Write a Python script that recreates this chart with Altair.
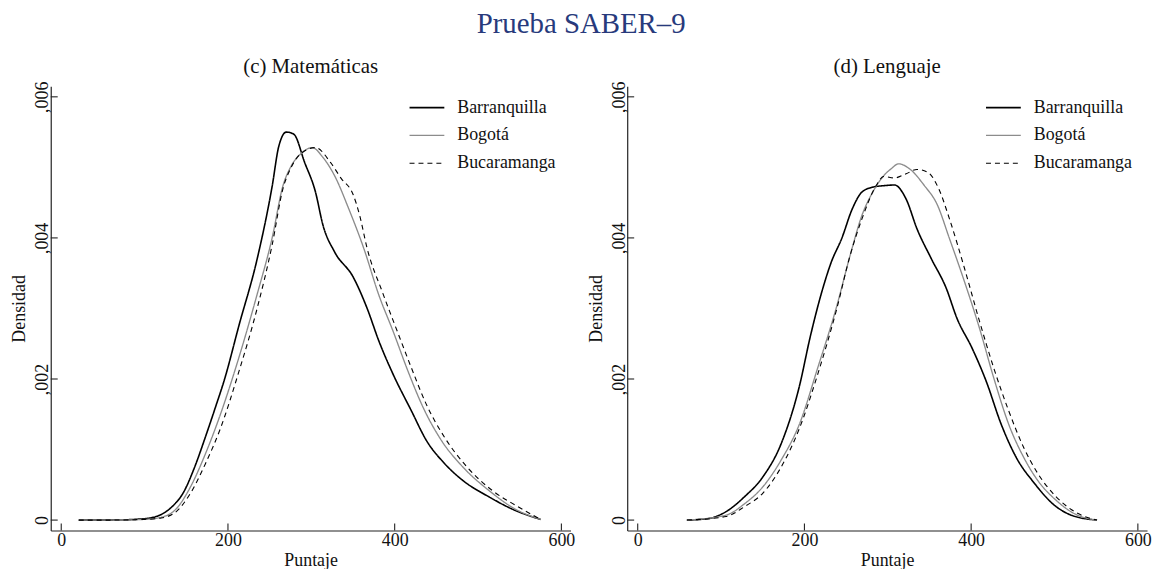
import altair as alt
import pandas as pd

FONT = "Liberation Serif"

cities = ["Barranquilla", "Bogotá", "Bucaramanga"]
city_colors = ["#000000", "#8c8c8c", "#000000"]
city_dashes = [[1, 0], [1, 0], [5, 4]]
city_widths = [1.6, 1.1, 1.3]

x_ticks = [0, 200, 400, 600]
y_ticks = [0, 0.002, 0.004, 0.006]

panel_titles = ["(c) Matemáticas", "(d) Lenguaje"]

# (c) Matemáticas
mat_x_barr = [21, 60, 100, 120, 133, 147, 160, 173, 185, 196, 213, 235, 253, 261, 270, 279, 292, 305, 314, 328, 350, 367, 381, 398, 420, 438, 460, 482, 513, 544, 575]
mat_y_barr = [0, 0, 0.00002, 0.00008, 0.00019, 0.0004, 0.00075, 0.00118, 0.0016, 0.0020, 0.00275, 0.0037, 0.00473, 0.0053, 0.0055, 0.00547, 0.00507, 0.00465, 0.00418, 0.0038, 0.00345, 0.003, 0.00254, 0.00207, 0.00155, 0.00113, 0.0008, 0.00056, 0.00033, 0.00014, 0.00001]
mat_x_bog = [21, 60, 100, 120, 138, 155, 173, 191, 213, 235, 253, 266, 275, 288, 301, 314, 328, 345, 363, 381, 398, 416, 434, 456, 482, 513, 544, 575]
mat_y_bog = [0, 0, 0.00001, 0.00004, 0.00016, 0.00047, 0.00094, 0.0015, 0.0023, 0.0032, 0.004, 0.00474, 0.005, 0.0052, 0.00528, 0.00514, 0.00488, 0.00441, 0.00385, 0.00319, 0.00268, 0.00211, 0.0016, 0.00113, 0.00075, 0.00042, 0.00016, 0.00001]
mat_x_buc = [21, 60, 100, 120, 138, 155, 173, 191, 213, 235, 253, 266, 275, 288, 305, 323, 336, 350, 358, 367, 385, 403, 420, 438, 460, 487, 517, 548, 575]
mat_y_buc = [0, 0, 0.00001, 0.00003, 0.00012, 0.00038, 0.0008, 0.0013, 0.0021, 0.003, 0.0039, 0.0047, 0.00498, 0.0052, 0.00528, 0.00507, 0.00484, 0.00462, 0.00432, 0.00385, 0.00324, 0.00268, 0.00216, 0.00164, 0.00117, 0.00075, 0.00042, 0.00019, 0.00001]

# (d) Lenguaje
len_x_barr = [59, 84, 106, 128, 150, 172, 194, 207, 220, 232, 245, 257, 269, 282, 295, 308, 322, 335, 352, 370, 383, 401, 418, 436, 454, 476, 498, 520, 551]
len_y_barr = [0, 0.00002, 0.00012, 0.00033, 0.00061, 0.00108, 0.0019, 0.0026, 0.0032, 0.00365, 0.004, 0.0044, 0.00465, 0.00472, 0.00474, 0.00475, 0.00455, 0.00413, 0.00371, 0.00329, 0.00286, 0.00244, 0.00197, 0.00136, 0.00089, 0.00052, 0.00023, 0.00007, 0]
len_x_bog = [59, 106, 128, 150, 172, 194, 216, 238, 255, 269, 282, 295, 304, 313, 326, 344, 359, 374, 392, 410, 427, 445, 463, 480, 502, 524, 551]
len_y_bog = [0, 0.00007, 0.00023, 0.00047, 0.00085, 0.00136, 0.00216, 0.003, 0.00376, 0.00432, 0.00465, 0.00488, 0.00498, 0.00505, 0.00498, 0.00474, 0.00448, 0.00399, 0.00338, 0.00272, 0.00202, 0.00136, 0.00089, 0.00056, 0.00028, 0.00009, 0]
len_x_buc = [59, 106, 128, 150, 172, 194, 216, 238, 255, 269, 286, 295, 308, 322, 335, 348, 361, 374, 392, 410, 427, 445, 463, 480, 502, 524, 551]
len_y_buc = [0, 0.00005, 0.00019, 0.00038, 0.00075, 0.0013, 0.00207, 0.00296, 0.00376, 0.00427, 0.00474, 0.00487, 0.00485, 0.00491, 0.00497, 0.00493, 0.0047, 0.00427, 0.00357, 0.00282, 0.00216, 0.00155, 0.00103, 0.00066, 0.00033, 0.00012, 0]

series = {
    panel_titles[0]: [(cities[0], mat_x_barr, mat_y_barr), (cities[1], mat_x_bog, mat_y_bog), (cities[2], mat_x_buc, mat_y_buc)],
    panel_titles[1]: [(cities[0], len_x_barr, len_y_barr), (cities[1], len_x_bog, len_y_bog), (cities[2], len_x_buc, len_y_buc)],
}

W, H = 523, 447
X_DOM = [-12.6, 611]
Y_DOM = [-0.000148, 0.00615]
TICK_LEN = 7

xscale = alt.Scale(domain=X_DOM, nice=False, zero=False)
yscale = alt.Scale(domain=Y_DOM, nice=False, zero=False)


def panel(title):
    rows = []
    for city, xs, ys in series[title]:
        for xv, yv in zip(xs, ys):
            rows.append({"Ciudad": city, "Puntaje": xv, "Densidad": yv})
    df = pd.DataFrame(rows)

    lines = alt.Chart(df).mark_line(interpolate="monotone").encode(
        x=alt.X("Puntaje:Q", scale=xscale,
                axis=alt.Axis(values=x_ticks, format="d", title="Puntaje")),
        y=alt.Y("Densidad:Q", scale=yscale,
                axis=alt.Axis(values=y_ticks, title="Densidad",
                              labelExpr="datum.value == 0 ? '0' : replace(format(datum.value, '.3f'), '0.', ',')")),
        color=alt.Color("Ciudad:N", scale=alt.Scale(domain=cities, range=city_colors), title=None),
        strokeDash=alt.StrokeDash("Ciudad:N", scale=alt.Scale(domain=cities, range=city_dashes), title=None),
        strokeWidth=alt.StrokeWidth("Ciudad:N", scale=alt.Scale(domain=cities, range=city_widths), title=None),
    )

    xt = alt.Chart(pd.DataFrame({"t": x_ticks})).mark_rule(color="#222", strokeWidth=1.1).encode(
        x=alt.X("t:Q", scale=xscale),
        y=alt.value(H - TICK_LEN), y2=alt.value(H),
    )
    yt = alt.Chart(pd.DataFrame({"t": y_ticks})).mark_rule(color="#222", strokeWidth=1.1).encode(
        y=alt.Y("t:Q", scale=yscale),
        x=alt.value(0), x2=alt.value(TICK_LEN),
    )

    return alt.layer(lines, xt, yt).properties(
        width=W, height=H,
        title=alt.TitleParams(title, fontSize=21, font=FONT, fontWeight="normal",
                              anchor="middle", baseline="alphabetic", offset=-13, color="#111"),
    )


chart = alt.hconcat(panel(panel_titles[0]), panel(panel_titles[1]), spacing=12).resolve_legend(
    color="independent", strokeDash="independent", strokeWidth="independent"
).properties(
    title=alt.TitleParams("Prueba SABER–9", fontSize=29, font=FONT, fontWeight="normal",
                          color="#283a7c", anchor="middle", baseline="top", offset=13, dy=-4),
    padding={"left": 3, "top": 0, "right": 0, "bottom": 0},
).configure_view(stroke=None).configure_axis(
    grid=False, ticks=False, tickSize=0, domainColor="#222", domainWidth=1.2,
    labelFont=FONT, labelFontSize=18, labelColor="#111", labelFlush=False, labelOverlap=False,
    titleFont=FONT, titleFontSize=18, titleFontWeight="normal", titleColor="#111",
).configure_axisX(
    labelPadding=1, titlePadding=2,
).configure_axisY(
    labelAngle=270, labelAlign="center", labelBaseline="alphabetic", labelPadding=3, titlePadding=5,
).configure_legend(
    orient="none", legendX=360, legendY=3, symbolType="stroke", symbolSize=1225,
    labelFont=FONT, labelFontSize=18, labelColor="#111", labelOffset=12, rowPadding=-10,
    symbolStrokeWidth=1.4,
)

chart.save("out.html", embed_options={"renderer": "svg", "actions": False})
